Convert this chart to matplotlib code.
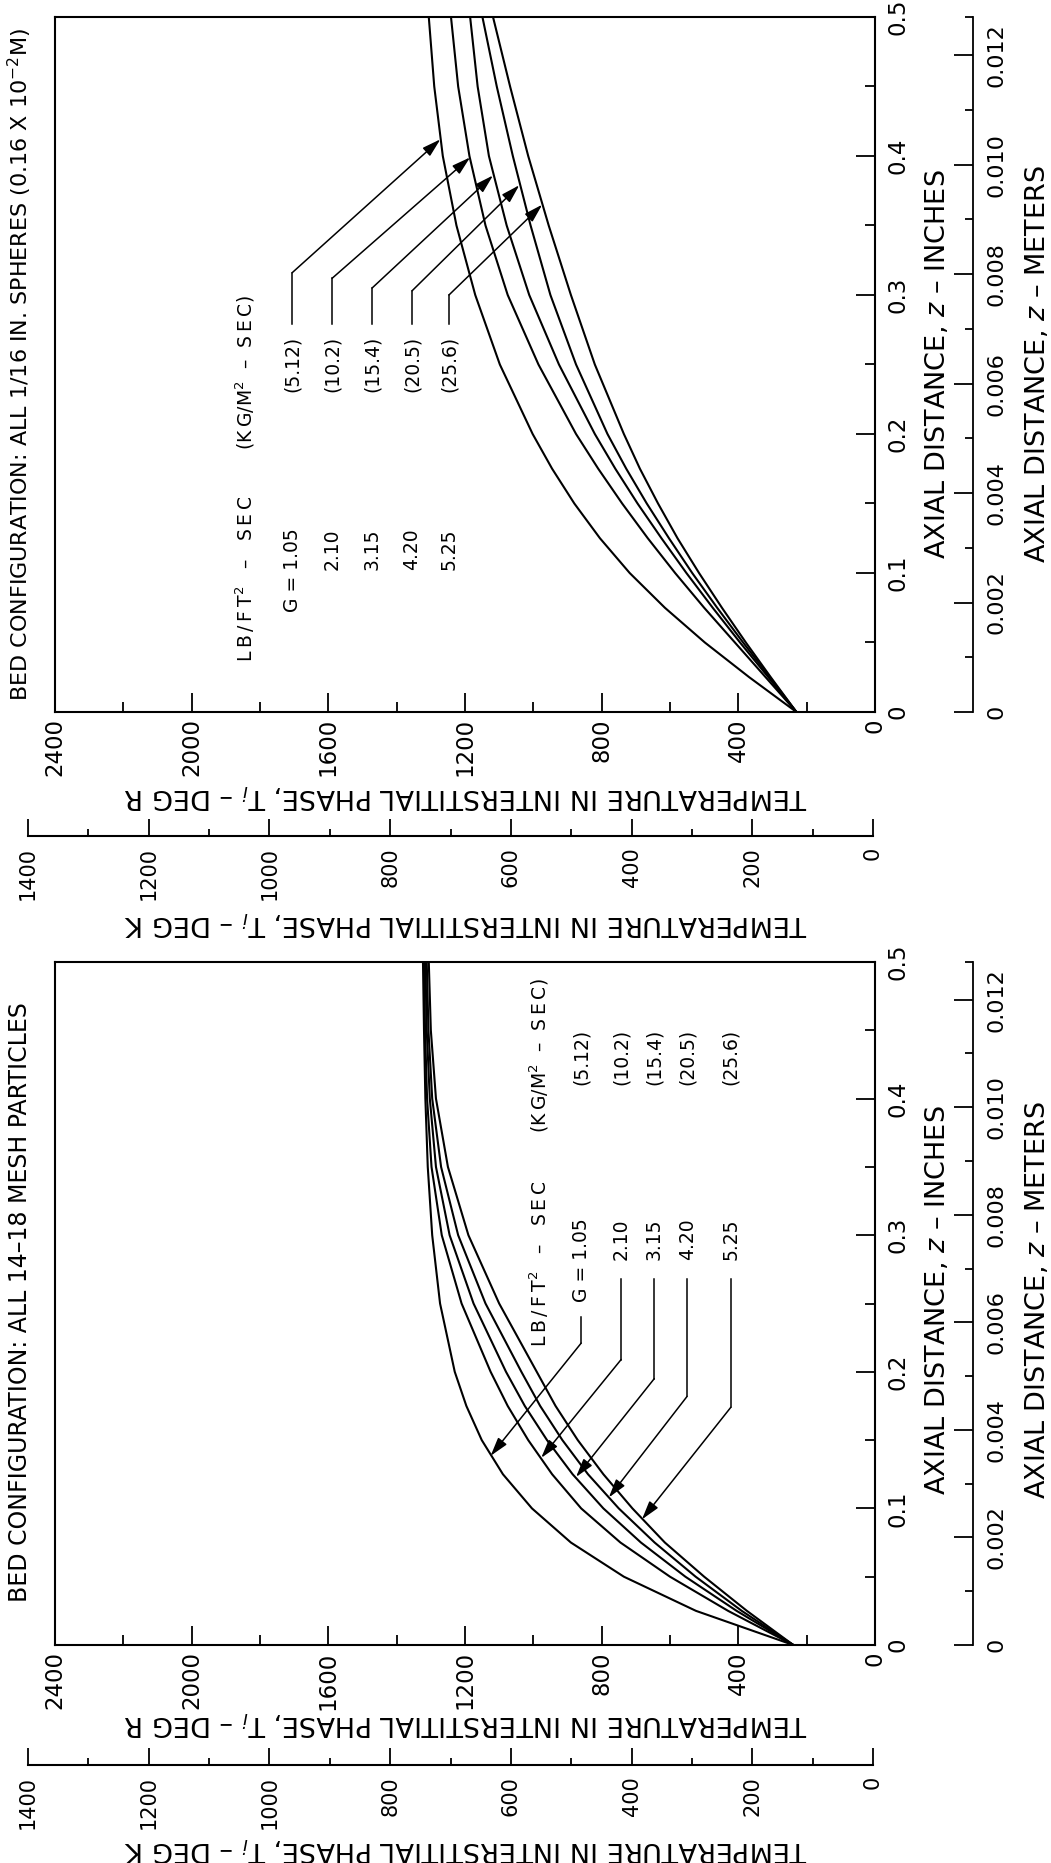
import numpy as np
import matplotlib
matplotlib.use("Agg")
from matplotlib import pyplot as plt
from matplotlib.ticker import MultipleLocator, FixedLocator, FuncFormatter

W, H = 1051, 1863  # figure size in pixels

# axial distance, inches
z_in = [0, 0.025, 0.05, 0.075, 0.1, 0.125, 0.15, 0.175, 0.2, 0.25, 0.3, 0.35, 0.4, 0.45, 0.5]

# spheres (1/16 in.) - interstitial temperature, deg R
sph_105 = [230, 368, 498, 615, 718, 805, 880, 945, 1002, 1098, 1170, 1225, 1265, 1290, 1306]
sph_210 = [230, 320, 410, 500, 585, 665, 740, 810, 875, 985, 1075, 1140, 1187, 1220, 1241]
sph_315 = [230, 312, 395, 475, 552, 625, 695, 760, 820, 925, 1012, 1078, 1130, 1163, 1185]
sph_420 = [230, 308, 386, 462, 535, 603, 668, 728, 783, 875, 950, 1008, 1060, 1107, 1149]
sph_525 = [230, 305, 378, 448, 515, 578, 635, 688, 735, 820, 890, 955, 1015, 1068, 1118]

# 14-18 mesh particles
msh_105 = [239, 524, 735, 890, 1004, 1089, 1151, 1196, 1230, 1273, 1296, 1309, 1316, 1320, 1323]
msh_210 = [239, 430, 600, 745, 860, 945, 1015, 1075, 1125, 1210, 1268, 1298, 1311, 1317, 1320]
msh_315 = [239, 405, 555, 685, 795, 885, 960, 1025, 1080, 1175, 1245, 1285, 1303, 1312, 1316]
msh_420 = [239, 390, 525, 645, 750, 840, 915, 980, 1035, 1140, 1220, 1270, 1296, 1307, 1312]
msh_525 = [239, 375, 500, 615, 710, 795, 870, 935, 990, 1100, 1190, 1250, 1285, 1300, 1306]

g_lb = ["G = 1.05", "2.10", "3.15", "4.20", "5.25"]
g_kg = ["(5.12)", "(10.2)", "(15.4)", "(20.5)", "(25.6)"]
head_lb = "L\u2009B\u2009/\u2009F\u2009T$^2$   \u2013   S\u2009E\u2009C"
head_kg = "(K\u2009G/M$^2$  \u2013  S\u2009E\u2009C)"

# arrow tips (T, z) where the leaders touch each curve
sph_tips = [(1272, 0.412), (1185, 0.399), (1118, 0.386), (1041, 0.379), (974, 0.365)]
msh_tips = [(1125, 0.1385), (977, 0.137), (875, 0.123), (779, 0.108), (682, 0.092)]

FONT = ["DejaVu Sans"]
ARROW = "-|>,head_length=0.75,head_width=0.22"


def fx(x):
    return x / W


def fy(y):
    return 1 - y / H


def fmt_in(v, p):
    return "0" if abs(v) < 1e-9 else "%.1f" % v


def fmt_m(v, p):
    return "0" if abs(v) < 1e-9 else "%.3f" % v


def draw_panel(fig, top, bot, kline, curves, leg):
    ax = fig.add_axes([fx(55), fy(bot), fx(875) - fx(55), (bot - top) / H])
    ax.set_xlim(2400, 0)
    ax.set_ylim(0, 0.5)
    for s in ax.spines.values():
        s.set_linewidth(1.5)
    ax.xaxis.set_major_locator(MultipleLocator(400))
    ax.xaxis.set_minor_locator(MultipleLocator(200))
    ax.yaxis.set_major_locator(MultipleLocator(0.1))
    ax.yaxis.set_minor_locator(MultipleLocator(0.05))
    ax.yaxis.tick_right()
    ax.yaxis.set_major_formatter(FuncFormatter(fmt_in))
    ax.tick_params(which="both", direction="in", width=1.3, top=False, left=False)
    ax.tick_params(which="major", length=14)
    ax.tick_params(which="minor", length=7)
    ax.tick_params(axis="x", labelrotation=90, pad=4.5, labelsize=16.5)
    ax.tick_params(axis="y", labelrotation=90, pad=8, labelsize=16.5)
    for lab in ax.get_yticklabels():
        lab.set_va("center")

    for T in curves:
        ax.plot(T, z_in, color="black", lw=1.5)

    # legend block
    (hx, hz0, hz1), (gx, gz_top, kz_bot), tips, corners = leg
    ax.text(hx, hz0, head_lb, rotation=90, ha="center", va="bottom", fontsize=13.5)
    ax.text(hx, hz1, head_kg, rotation=90, ha="center", va="top", fontsize=13.5)
    for i in range(5):
        ax.text(gx[i], gz_top, g_lb[i], rotation=90, ha="center", va="top", fontsize=13.5)
        ax.text(gx[i], kz_bot, g_kg[i], rotation=90, ha="center", va="bottom", fontsize=13.5)
        cT, c0, c1 = corners[i]
        ax.plot([cT, cT], [c0, c1], color="black", lw=1.1)
        ax.annotate("", xy=tips[i], xytext=(cT, c1),
                    arrowprops=dict(arrowstyle=ARROW, color="black", lw=1.1,
                                    mutation_scale=15, shrinkA=0, shrinkB=0))

    # kelvin scale
    kax = fig.add_axes([fx(28), fy(kline), fx(873) - fx(28), 1e-4])
    kax.set_xlim(1400, 0)
    for k in ["top", "left", "right"]:
        kax.spines[k].set_visible(False)
    kax.spines["bottom"].set_linewidth(1.5)
    kax.set_yticks([])
    kax.patch.set_alpha(0)
    kax.xaxis.set_major_locator(MultipleLocator(200))
    kax.xaxis.set_minor_locator(MultipleLocator(100))
    kax.tick_params(which="both", direction="in", width=1.3)
    kax.tick_params(which="major", length=12)
    kax.tick_params(which="minor", length=5)
    kax.tick_params(axis="x", labelrotation=90, pad=8, labelsize=15)

    # meter scale
    zmax = 0.5 * 0.0254
    max_ = fig.add_axes([fx(973) - 1e-4, fy(bot), 1e-4, (bot - top) / H])
    max_.set_ylim(0, zmax)
    for k in ["top", "left", "bottom"]:
        max_.spines[k].set_visible(False)
    max_.spines["right"].set_linewidth(1.3)
    max_.set_xticks([])
    max_.patch.set_alpha(0)
    max_.yaxis.tick_right()
    max_.yaxis.set_major_locator(MultipleLocator(0.002))
    max_.yaxis.set_minor_locator(FixedLocator([0.001, 0.003, 0.005, 0.007, 0.009, 0.011, zmax]))
    max_.yaxis.set_major_formatter(FuncFormatter(fmt_m))
    max_.tick_params(which="both", direction="in", width=1.3)
    max_.tick_params(which="major", length=14)
    max_.tick_params(which="minor", length=6)
    max_.tick_params(axis="y", labelrotation=90, pad=10, labelsize=16)
    for lab in max_.get_yticklabels():
        lab.set_va("center")

    return ax


plt.rcParams["font.family"] = FONT
fig = plt.figure(figsize=(W / 100, H / 100), dpi=100)

# spheres panel (upper)
sph_leg = ((1844, 0.036, 0.300),
           ([1706, 1589, 1472, 1355, 1247], 0.132, 0.230),
           sph_tips,
           [(1706, 0.279, 0.316), (1589, 0.279, 0.312), (1472, 0.279, 0.305),
            (1355, 0.279, 0.303), (1247, 0.279, 0.300)])
draw_panel(fig, 17, 712, 836, [sph_105, sph_210, sph_315, sph_420, sph_525], sph_leg)

# mesh panel (lower)
msh_leg = ((982, 0.218, 0.488),
           ([860, 743, 646, 550, 422], 0.3125, 0.41),
           msh_tips,
           [(860, 0.240, 0.221), (743, 0.268, 0.209), (646, 0.268, 0.195),
            (550, 0.268, 0.182), (422, 0.268, 0.174)])
draw_panel(fig, 962, 1645, 1765, [msh_105, msh_210, msh_315, msh_420, msh_525], msh_leg)

lab_kw = dict(fontsize=19.5, ha="center", va="center")
for yR, yK in [(796, 923), (1723, 1849)]:
    fig.text(fx(465), fy(yR), "TEMPERATURE IN INTERSTITIAL PHASE, T$_i$ \u2013 DEG R",
             rotation=180, **lab_kw)
    fig.text(fx(465), fy(yK), "TEMPERATURE IN INTERSTITIAL PHASE, T$_i$ \u2013 DEG K",
             rotation=180, **lab_kw)
for yc in [364, 1300]:
    fig.text(fx(937), fy(yc), "AXIAL DISTANCE, $z$ \u2013 INCHES", rotation=90, **lab_kw)
    fig.text(fx(1037), fy(yc), "AXIAL DISTANCE, $z$ \u2013 METERS", rotation=90, **lab_kw)

fig.text(fx(20), fy(701), "BED CONFIGURATION: ALL 1/16 IN. SPHERES (0.16 X 10$^{-2}$M)",
         rotation=90, ha="center", va="bottom", fontsize=16)
fig.text(fx(20), fy(1602), "BED CONFIGURATION: ALL 14\u201318 MESH PARTICLES",
         rotation=90, ha="center", va="bottom", fontsize=17)

fig.savefig("out.png", dpi=100)
